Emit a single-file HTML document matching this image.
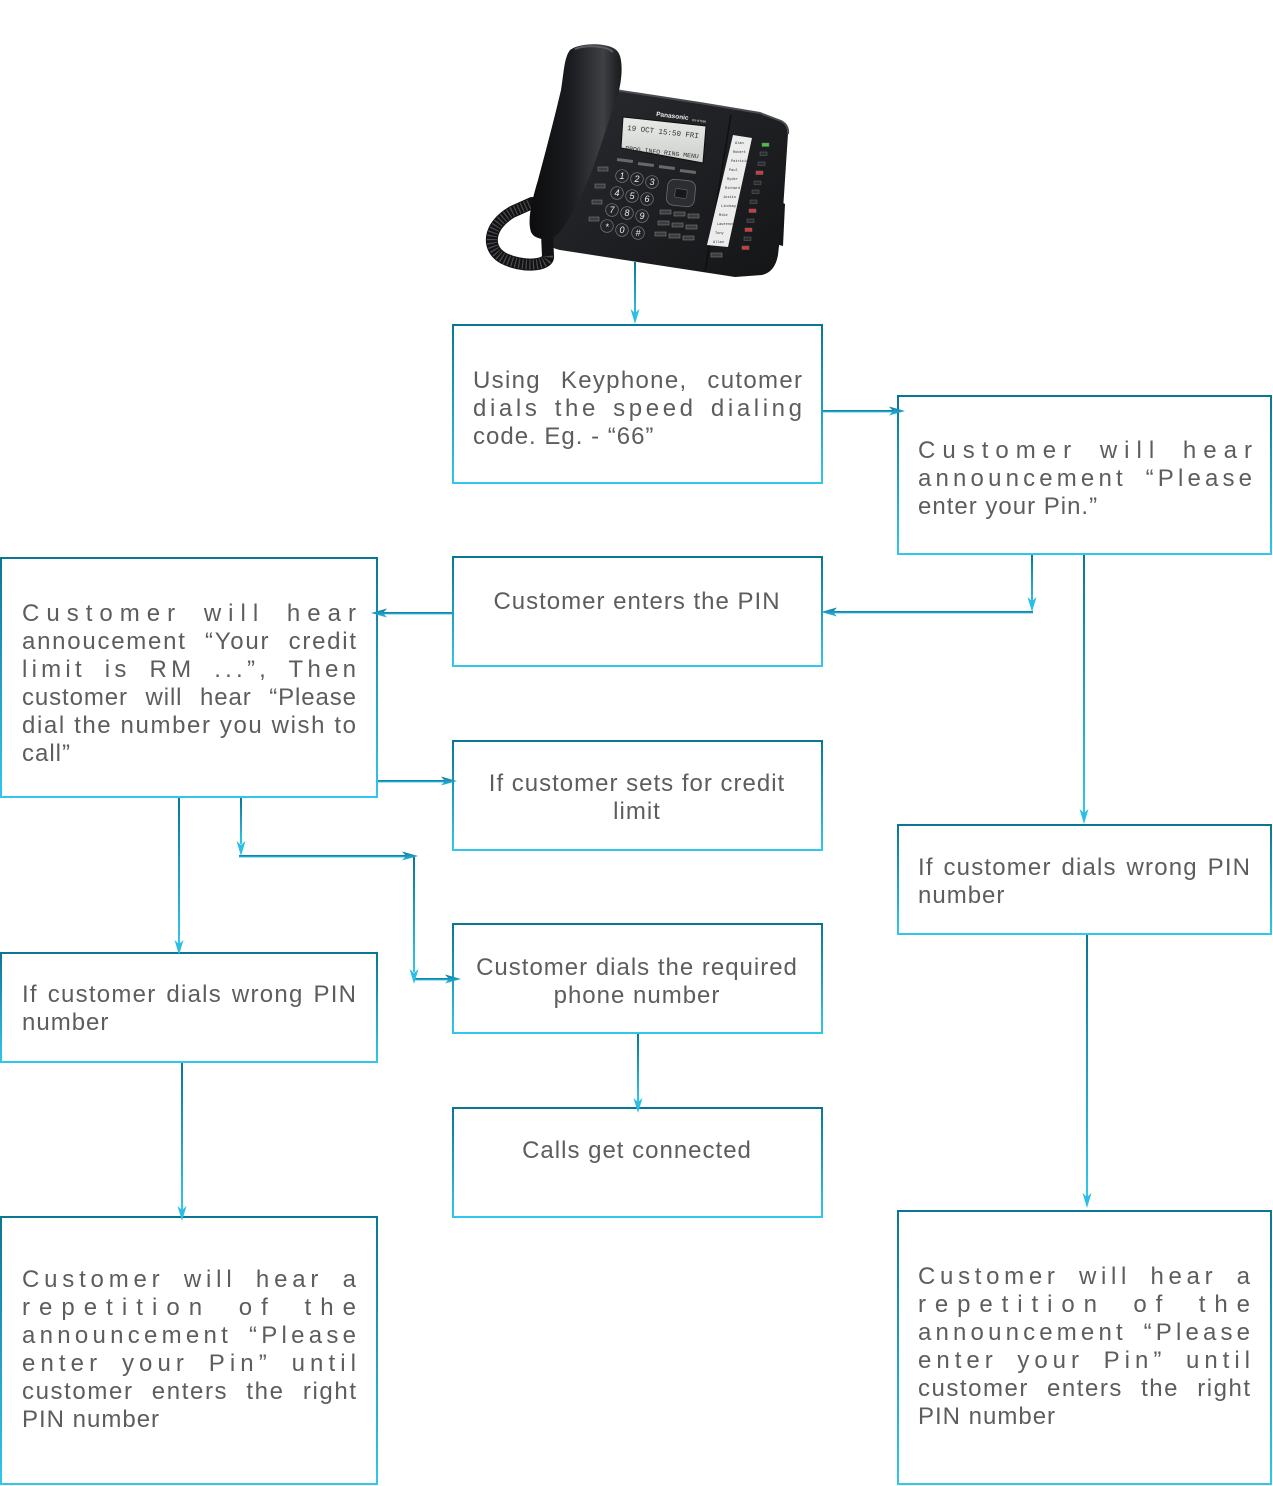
<!DOCTYPE html>
<html>
<head>
<meta charset="utf-8">
<style>
  html,body{margin:0;padding:0;background:#fff;}
  body{width:1273px;height:1486px;overflow:hidden;}
  svg{display:block;}
  .t{font-family:"Liberation Sans",Helvetica,Arial,sans-serif;font-size:24px;fill:#5d5d5d;}
  .n{letter-spacing:1px;}
  .c{letter-spacing:1px;text-anchor:middle;}
  .m{font-family:"Liberation Mono",monospace;fill:#333;}
  .w{font-family:"Liberation Sans",Arial,sans-serif;fill:#eee;}
</style>
</head>
<body>
<svg width="1273" height="1486" viewBox="0 0 1273 1486" xmlns="http://www.w3.org/2000/svg">
  <defs>
    <linearGradient id="g" x1="0" y1="0" x2="0" y2="1">
      <stop offset="0" stop-color="#0a7694"/>
      <stop offset="1" stop-color="#33c6ec"/>
    </linearGradient>
    <linearGradient id="gh" x1="0" y1="0" x2="0" y2="1">
      <stop offset="0" stop-color="#0a7a98"/>
      <stop offset="1" stop-color="#2cbbe2"/>
    </linearGradient>
    <linearGradient id="hs" x1="0" y1="0" x2="1" y2="0">
      <stop offset="0" stop-color="#0c0c0e"/>
      <stop offset="0.45" stop-color="#1b1c1f"/>
      <stop offset="0.8" stop-color="#3e4044"/>
      <stop offset="1" stop-color="#18191b"/>
    </linearGradient>
    <linearGradient id="lcd" x1="0" y1="0" x2="0" y2="1">
      <stop offset="0" stop-color="#e8eae7"/>
      <stop offset="1" stop-color="#cdd0cd"/>
    </linearGradient>
    <linearGradient id="bs" x1="0" y1="0" x2="1" y2="1">
      <stop offset="0" stop-color="#2a2b2f"/>
      <stop offset="1" stop-color="#141517"/>
    </linearGradient>
  </defs>

  <!-- ================= PHONE ================= -->
  <polygon points="770,196 785,204 783,246 768,242" fill="#151618"/>
  <path d="M615,90 L700,103 L760,113 L781,121 Q789,125 788,134 L783,210 L778,255 Q775,272 762,275 L735,277 L560,250 Q546,247 546,238 L560,170 Z" fill="url(#bs)"/>
  <path d="M615,90 L700,103 L760,113 L781,121 Q789,125 788,134" fill="none" stroke="#4a4c51" stroke-width="2"/>
  <path d="M731,115 L705,272" stroke="#0e0f10" stroke-width="1.5"/>
  <polygon points="623,117 706,126 703,163 621,148" fill="url(#lcd)" stroke="#0f0f10" stroke-width="1"/>
  <text class="m" font-size="7.5" transform="translate(627,130) rotate(6.5)">19 OCT 15:50  FRI</text>
  <text class="m" font-size="6.2" transform="translate(625,150) rotate(6.5)" textLength="74" lengthAdjust="spacingAndGlyphs">PROG INFO RING MENU</text>
  <text class="w" font-size="6.5" font-weight="bold" transform="translate(656,116) rotate(7)">Panasonic</text>
  <text class="w" font-size="3" transform="translate(692,121) rotate(7)">KX-NT556</text>
  <g fill="#66686c">
    <rect x="617" y="159" width="16" height="3" transform="rotate(7 625 160)"/>
    <rect x="638" y="163" width="16" height="3" transform="rotate(7 646 164)"/>
    <rect x="659" y="166" width="16" height="3" transform="rotate(7 667 167)"/>
    <rect x="680" y="170" width="16" height="3" transform="rotate(7 688 171)"/>
  </g>
  <g fill="#3b3c40" stroke="#8a8a8a" stroke-width="0.5">
    <rect x="598" y="167" width="10" height="4"/>
    <rect x="595" y="184" width="10" height="4"/>
    <rect x="592" y="200" width="10" height="4"/>
    <rect x="589" y="217" width="10" height="4"/>
  </g>
  <g stroke="#7a7b7f" stroke-width="0.7" fill="#232427">
    <circle cx="622" cy="176" r="6.3"/><circle cx="637" cy="179" r="6.3"/><circle cx="652" cy="182" r="6.3"/>
    <circle cx="617" cy="193" r="6.3"/><circle cx="632" cy="196" r="6.3"/><circle cx="647" cy="199" r="6.3"/>
    <circle cx="612" cy="210" r="6.3"/><circle cx="627" cy="213" r="6.3"/><circle cx="642" cy="216" r="6.3"/>
    <circle cx="607" cy="226" r="6.3"/><circle cx="622" cy="230" r="6.3"/><circle cx="638" cy="233" r="6.3"/>
  </g>
  <g class="w" font-size="9" text-anchor="middle" font-style="italic">
    <text x="622" y="179">1</text><text x="637" y="182">2</text><text x="652" y="185">3</text>
    <text x="617" y="196">4</text><text x="632" y="199">5</text><text x="647" y="202">6</text>
    <text x="612" y="213">7</text><text x="627" y="216">8</text><text x="642" y="219">9</text>
    <text x="607" y="230">*</text><text x="622" y="233">0</text><text x="638" y="236">#</text>
  </g>
  <rect x="667" y="180" width="28" height="26" rx="7" fill="#2c2d31" stroke="#6a6b70" stroke-width="0.8" transform="rotate(6 681 193)"/>
  <rect x="675" y="189" width="12" height="9" rx="2" fill="#17181a" stroke="#777" stroke-width="0.5" transform="rotate(6 681 193)"/>
  <g fill="#3b3c40" stroke="#8a8a8a" stroke-width="0.5">
    <rect x="660" y="210" width="11" height="4"/><rect x="674" y="212" width="11" height="4"/><rect x="688" y="214" width="11" height="4"/>
    <rect x="658" y="221" width="11" height="4"/><rect x="672" y="223" width="11" height="4"/><rect x="686" y="225" width="11" height="4"/>
    <rect x="655" y="232" width="11" height="4"/><rect x="669" y="234" width="11" height="4"/><rect x="683" y="236" width="11" height="4"/>
    <rect x="711" y="253" width="11" height="4"/>
  </g>
  <polygon points="733,135 752,138 728,247 707,245" fill="#ececec"/>
  <g class="m" font-size="3.6" fill="#444">
    <text x="735" y="144">Alan</text><text x="733" y="153">Robert</text><text x="731" y="162">Patricia</text>
    <text x="729" y="171">Paul</text><text x="727" y="180">Ryder</text><text x="725" y="189">Richard</text>
    <text x="723" y="198">Justin</text><text x="721" y="207">Lindsay</text><text x="719" y="216">Mike</text>
    <text x="717" y="225">Lawrence</text><text x="715" y="234">Tony</text><text x="713" y="243">Allan</text>
  </g>
  <g stroke="#777" stroke-width="0.4">
    <rect x="762" y="143" width="7" height="3.5" fill="#44c24a"/>
    <rect x="760" y="152" width="7" height="3.5" fill="#2c2d30"/>
    <rect x="758" y="162" width="7" height="3.5" fill="#2c2d30"/>
    <rect x="756" y="171" width="7" height="3.5" fill="#d3383c"/>
    <rect x="754" y="181" width="7" height="3.5" fill="#2c2d30"/>
    <rect x="752" y="190" width="7" height="3.5" fill="#2c2d30"/>
    <rect x="750" y="200" width="7" height="3.5" fill="#2c2d30"/>
    <rect x="749" y="209" width="7" height="3.5" fill="#d3383c"/>
    <rect x="747" y="219" width="7" height="3.5" fill="#2c2d30"/>
    <rect x="745" y="228" width="7" height="3.5" fill="#d3383c"/>
    <rect x="744" y="237" width="7" height="3.5" fill="#2c2d30"/>
    <rect x="742" y="246" width="7" height="3.5" fill="#d3383c"/>
  </g>
  <path d="M547,234 L548,256 C549,266 522,268 503,258 C486,248 488,226 512,212 L532,203" fill="none" stroke="#121214" stroke-width="12" stroke-linecap="round"/>
  <path d="M548,256 C549,266 522,268 503,258 C486,248 488,226 512,212 L530,204" fill="none" stroke="#4a4b4f" stroke-width="10" stroke-dasharray="1.2 2.4"/>
  <path d="M570,50 C580,42 612,42 618,52 C624,60 622,85 616,100 C607,125 597,160 586,185 C576,207 565,226 558,234 C551,241 535,241 531,232 C527,220 532,200 538,180 C546,150 554,120 561,90 C564,72 564,58 570,50 Z" fill="url(#hs)"/>
  <path d="M575,49 C585,45 605,45 613,52" fill="none" stroke="#5b5d62" stroke-width="2"/>

  <!-- ================= BOXES ================= -->
  <g fill="none" stroke="url(#g)" stroke-width="2">
    <rect x="453" y="325" width="369" height="158"/>
    <rect x="453" y="557" width="369" height="109"/>
    <rect x="898" y="396" width="373" height="158"/>
    <rect x="1" y="558" width="376" height="239"/>
    <rect x="453" y="741" width="369" height="109"/>
    <rect x="453" y="924" width="369" height="109"/>
    <rect x="453" y="1108" width="369" height="109"/>
    <rect x="898" y="825" width="373" height="109"/>
    <rect x="898" y="1211" width="373" height="273"/>
    <rect x="1" y="953" width="376" height="109"/>
    <rect x="1" y="1217" width="376" height="267"/>
  </g>

  <!-- ================= CONNECTORS ================= -->
  <g fill="url(#g)">
    <rect x="634" y="262" width="2" height="56"/>
    <rect x="1031" y="555" width="2" height="52"/>
    <rect x="1083" y="555" width="2" height="258"/>
    <rect x="178" y="798" width="2" height="146"/>
    <rect x="240" y="798" width="2" height="46"/>
    <rect x="413" y="856" width="2" height="116"/>
    <rect x="637" y="1034" width="2" height="68"/>
    <rect x="1086" y="935" width="2" height="262"/>
    <rect x="181" y="1063" width="2" height="147"/>
  </g>
  <g fill="url(#gh)">
    <rect x="823" y="410" width="72" height="2.4"/>
    <rect x="830" y="611" width="203" height="2.4"/>
    <rect x="380" y="612" width="72" height="2.4"/>
    <rect x="378" y="780" width="70" height="2.4"/>
    <rect x="239" y="855" width="168" height="2.4"/>
    <rect x="413" y="978" width="38" height="2.4"/>
  </g>

  <g fill="#2cbfe6">
    <polygon points="635,324 630.5,309 635,313 639.5,309"/>
    <polygon points="1032,612 1027.5,597 1032,601 1036.5,597"/>
    <polygon points="1084,824 1079.5,809 1084,813 1088.5,809"/>
    <polygon points="179,955 174.5,940 179,944 183.5,940"/>
    <polygon points="241,856 236.5,841 241,845 245.5,841"/>
    <polygon points="414,984 409.5,969 414,973 418.5,969"/>
    <polygon points="638,1113 633.5,1098 638,1102 642.5,1098"/>
    <polygon points="1087,1208 1082.5,1193 1087,1197 1091.5,1193"/>
    <polygon points="182,1221 177.5,1206 182,1210 186.5,1206"/>
  </g>
  <g fill="url(#gh)">
    <polygon points="905,411 889,406.5 893,411 889,415.5"/>
    <polygon points="457,781 441,776.5 445,781 441,785.5"/>
    <polygon points="418,856 402,851.5 406,856 402,860.5"/>
    <polygon points="461,979 445,974.5 449,979 445,983.5"/>
    <polygon points="821,612 837,607.5 833,612 837,616.5"/>
    <polygon points="371,613 387,608.5 383,613 387,617.5"/>
  </g>

  <!-- ================= TEXT ================= -->
  <g class="t">
    <text x="473" y="388" textLength="329" lengthAdjust="spacing" style="word-spacing:12px">Using Keyphone, cutomer</text>
    <text x="473" y="416" textLength="329" lengthAdjust="spacing" style="word-spacing:4px">dials the speed dialing</text>
    <text x="473" y="444" class="n">code. Eg. - “66”</text>

    <text x="918" y="458" textLength="334" lengthAdjust="spacing" style="word-spacing:8px">Customer will hear</text>
    <text x="918" y="486" textLength="334" lengthAdjust="spacing" style="word-spacing:8px">announcement “Please</text>
    <text x="918" y="514" class="n">enter your Pin.”</text>

    <text x="637" y="609" class="c">Customer enters the PIN</text>

    <text x="22" y="621" textLength="334" lengthAdjust="spacing" style="word-spacing:8px">Customer will hear</text>
    <text x="22" y="649" textLength="334" lengthAdjust="spacing" style="word-spacing:10px">annoucement “Your credit</text>
    <text x="22" y="677" textLength="334" lengthAdjust="spacing" style="word-spacing:8px">limit is RM ...”, Then</text>
    <text x="22" y="705" textLength="334" lengthAdjust="spacing" style="word-spacing:10px">customer will hear “Please</text>
    <text x="22" y="733" textLength="334" lengthAdjust="spacing">dial the number you wish to</text>
    <text x="22" y="761" class="n">call”</text>

    <text x="637" y="791" class="c">If customer sets for credit</text>
    <text x="637" y="819" class="c">limit</text>

    <text x="637" y="975" class="c">Customer dials the required</text>
    <text x="637" y="1003" class="c">phone number</text>

    <text x="637" y="1158" class="c">Calls get connected</text>

    <text x="918" y="875" textLength="332" lengthAdjust="spacing" style="word-spacing:2px">If customer dials wrong PIN</text>
    <text x="918" y="903" class="n">number</text>

    <text x="22" y="1002" textLength="334" lengthAdjust="spacing" style="word-spacing:2px">If customer dials wrong PIN</text>
    <text x="22" y="1030" class="n">number</text>

    <text x="22" y="1287" textLength="334" lengthAdjust="spacing" style="word-spacing:8px">Customer will hear a</text>
    <text x="22" y="1315" textLength="334" lengthAdjust="spacing" style="word-spacing:12px">repetition of the</text>
    <text x="22" y="1343" textLength="334" lengthAdjust="spacing" style="word-spacing:6px">announcement “Please</text>
    <text x="22" y="1371" textLength="334" lengthAdjust="spacing" style="word-spacing:8px">enter your Pin” until</text>
    <text x="22" y="1399" textLength="334" lengthAdjust="spacing" style="word-spacing:10px">customer enters the right</text>
    <text x="22" y="1427" class="n">PIN number</text>

    <text x="918" y="1284" textLength="332" lengthAdjust="spacing" style="word-spacing:8px">Customer will hear a</text>
    <text x="918" y="1312" textLength="332" lengthAdjust="spacing" style="word-spacing:12px">repetition of the</text>
    <text x="918" y="1340" textLength="332" lengthAdjust="spacing" style="word-spacing:6px">announcement “Please</text>
    <text x="918" y="1368" textLength="332" lengthAdjust="spacing" style="word-spacing:8px">enter your Pin” until</text>
    <text x="918" y="1396" textLength="332" lengthAdjust="spacing" style="word-spacing:10px">customer enters the right</text>
    <text x="918" y="1424" class="n">PIN number</text>
  </g>
</svg>
</body>
</html>
